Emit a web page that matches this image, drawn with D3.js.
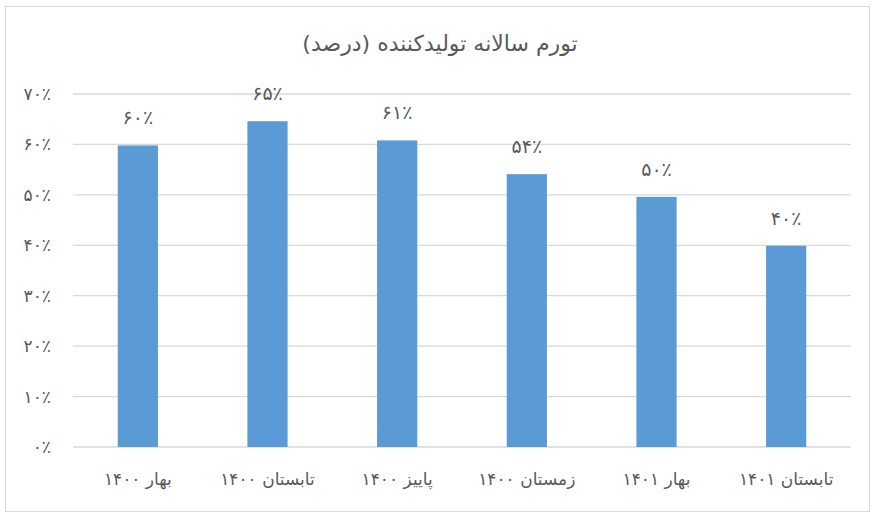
<!DOCTYPE html>
<html><head><meta charset="utf-8">
<script src="https://cdn.jsdelivr.net/npm/d3@7"></script>
<style>body{margin:0;background:#fff}svg{display:block}text{font-family:"DejaVu Sans",sans-serif;fill:#595959}</style>
</head><body><svg id="c" width="877" height="519"></svg>
<script>
const categories = ["بهار ۱۴۰۰","تابستان ۱۴۰۰","پاییز ۱۴۰۰","زمستان ۱۴۰۰","بهار ۱۴۰۱","تابستان ۱۴۰۱"];
const values = [59.8,64.6,60.8,54.1,49.6,39.9];
const valueLabels = ["۶۰٪","۶۵٪","۶۱٪","۵۴٪","۵۰٪","۴۰٪"];
const yTicks = [0,10,20,30,40,50,60,70];
const yTickLabels = ["۰٪","۱۰٪","۲۰٪","۳۰٪","۴۰٪","۵۰٪","۶۰٪","۷۰٪"];
const title = "تورم سالانه تولیدکننده (درصد)";

const svg = d3.select("#c");
svg.append("rect").attr("x",5.5).attr("y",6.5).attr("width",864).attr("height",505)
  .attr("fill","#fff").attr("stroke","#d9d9d9");
const x = d3.scaleBand().domain(categories).range([73,851]).paddingInner(0.69).paddingOuter(0.345);
const y = d3.scaleLinear().domain([0,70]).range([447,94]);

svg.append("g").selectAll("line").data(yTicks).join("line")
  .attr("x1",73).attr("x2",851).attr("y1",d=>y(d)).attr("y2",d=>y(d))
  .attr("stroke","#d9d9d9").attr("stroke-width",1.3);
svg.append("g").selectAll("text").data(yTicks).join("text")
  .attr("x",51).attr("y",d=>y(d)+6).attr("text-anchor","end").attr("font-size",17)
  .text((d,i)=>yTickLabels[i]);

svg.append("g").selectAll("rect").data(values).join("rect")
  .attr("x",(d,i)=>x(categories[i])).attr("width",x.bandwidth())
  .attr("y",d=>y(d)).attr("height",d=>y(0)-y(d)).attr("fill","#5b9bd5");
svg.append("g").selectAll("text").data(values).join("text")
  .attr("x",(d,i)=>x(categories[i])+x.bandwidth()/2).attr("y",d=>y(d)-21)
  .attr("text-anchor","middle").attr("font-size",19).attr("fill","#404040")
  .text((d,i)=>valueLabels[i]);

svg.append("g").selectAll("text").data(categories).join("text")
  .attr("x",d=>x(d)+x.bandwidth()/2).attr("y",485)
  .attr("text-anchor","middle").attr("direction","rtl").attr("font-size",17)
  .text(d=>d);

svg.append("text").attr("x",440).attr("y",51).attr("text-anchor","middle")
  .attr("direction","rtl").attr("font-size",22).text(title);
</script></body></html>
